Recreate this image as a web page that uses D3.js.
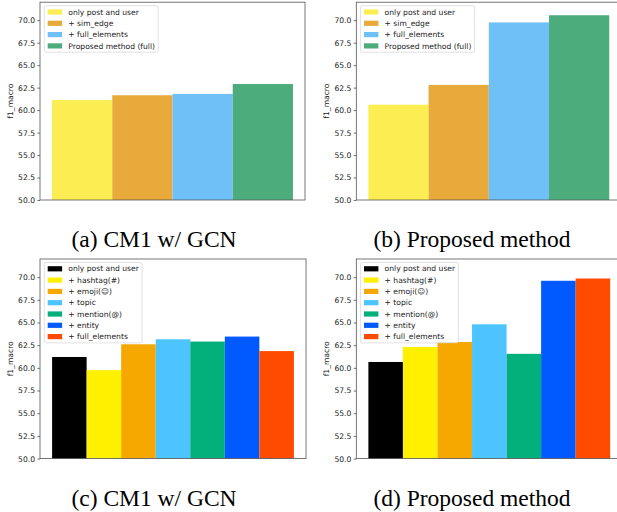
<!DOCTYPE html>
<html>
<head>
<meta charset="utf-8">
<script src="https://cdn.jsdelivr.net/npm/d3@7"></script>
<style>
  html, body { margin: 0; padding: 0; background: #ffffff; }
  svg { display: block; }
</style>
</head>
<body>
<svg id="chart" width="617" height="512"></svg>
<script>
// ---- data ----
const labelsTop = ["only post and user", "+ sim_edge", "+ full_elements", "Proposed method (full)"];
const colorsTop = ["#fcee52", "#e8aa3b", "#6fc0f7", "#4dac7c"];
const valuesA = [61.12, 61.65, 61.8, 62.9];
const valuesB = [60.6, 62.8, 69.75, 70.55];

const labelsBottom = ["only post and user", "+ hashtag(#)", "+ emoji(\u263A)", "+ topic", "+ mention(@)", "+ entity", "+ full_elements"];
const colorsBottom = ["#000000", "#fff000", "#f6a800", "#4dc4ff", "#03af7a", "#005aff", "#ff4b00"];
const valuesC = [61.2, 59.75, 62.6, 63.15, 62.9, 63.45, 61.85];
const valuesD = [60.65, 62.3, 62.85, 64.8, 61.55, 69.6, 69.85];

const yTicks = [50.0, 52.5, 55.0, 57.5, 60.0, 62.5, 65.0, 67.5, 70.0];
const yDomain = [50, 72];
const yLabel = "f1_macro";
const captions = ["(a) CM1 w/ GCN", "(b) Proposed method", "(c) CM1 w/ GCN", "(d) Proposed method"];

// ---- layout ----
const FS = 7.6;
const panels = [
  { x0: 40,    x1: 305,   y0: 2.2, y1: 200,   labels: labelsTop,    colors: colorsTop,    values: valuesA, cap: captions[0], capX: 154, capY: 246.5 },
  { x0: 356.3, x1: 621.3, y0: 2.2, y1: 200,   labels: labelsTop,    colors: colorsTop,    values: valuesB, cap: captions[1], capX: 472, capY: 246.5 },
  { x0: 40,    x1: 306,   y0: 259, y1: 458.6, labels: labelsBottom, colors: colorsBottom, values: valuesC, cap: captions[2], capX: 154, capY: 506 },
  { x0: 356.3, x1: 622.3, y0: 259, y1: 458.6, labels: labelsBottom, colors: colorsBottom, values: valuesD, cap: captions[3], capX: 472, capY: 506 }
];

const svg = d3.select("#chart");
svg.append("rect").attr("width", 617).attr("height", 512).attr("fill", "#fff");

panels.forEach(p => {
  const n = p.labels.length;
  const x = d3.scaleBand().domain(p.labels).range([p.x0, p.x1]).paddingInner(0).paddingOuter(0.05 * n);
  const y = d3.scaleLinear().domain(yDomain).range([p.y1, p.y0]);
  const g = svg.append("g");

  // bars
  g.selectAll("rect.bar").data(p.values).join("rect")
    .attr("class", "bar")
    .attr("x", (d, i) => x(p.labels[i]))
    .attr("width", x.bandwidth())
    .attr("y", d => y(d))
    .attr("height", d => y(yDomain[0]) - y(d))
    .attr("fill", (d, i) => p.colors[i]);

  // y axis
  const yAxis = d3.axisLeft(y).tickValues(yTicks).tickFormat(d3.format(".1f")).tickSize(2.6).tickPadding(2.4);
  const ya = g.append("g").attr("transform", `translate(${p.x0},0)`).call(yAxis);
  ya.select(".domain").remove();
  ya.selectAll(".tick line").attr("stroke", "#333").attr("stroke-width", 0.7);
  ya.selectAll(".tick text").attr("font-family", "DejaVu Sans").attr("font-size", FS).attr("fill", "#222");

  // frame
  g.append("rect")
    .attr("x", p.x0).attr("y", p.y0)
    .attr("width", p.x1 - p.x0).attr("height", p.y1 - p.y0)
    .attr("fill", "none").attr("stroke", "#555").attr("stroke-width", 0.8);

  // y label
  g.append("text")
    .attr("transform", `translate(${p.x0 - 27},${(p.y0 + p.y1) / 2}) rotate(-90)`)
    .attr("text-anchor", "middle")
    .attr("font-family", "DejaVu Sans").attr("font-size", FS).attr("fill", "#222")
    .text(yLabel);

  // legend
  const lx = p.x0 + 4.3, ly = p.y0 + 3.5;
  const lg = g.append("g");
  const box = lg.append("rect");
  const texts = [];
  p.labels.forEach((lab, i) => {
    const cy = ly + 6.3 + i * 11.3;
    lg.append("rect").attr("x", lx + 3.4).attr("y", cy - 2.6).attr("width", 14.4).attr("height", 5.2).attr("fill", p.colors[i]);
    const t = lg.append("text").attr("x", lx + 24).attr("y", cy).attr("dy", "0.35em")
      .attr("font-family", "DejaVu Sans").attr("font-size", FS).attr("fill", "#222").text(lab);
    texts.push(t);
  });
  const maxW = d3.max(texts, t => t.node().getComputedTextLength());
  box.attr("x", lx).attr("y", ly).attr("rx", 1.5)
    .attr("width", 24 + maxW + 3.2)
    .attr("height", 12.6 + (n - 1) * 11.3)
    .attr("fill", "#fff").attr("fill-opacity", 0.8)
    .attr("stroke", "#cccccc").attr("stroke-width", 0.6);

  // caption
  svg.append("text")
    .attr("x", p.capX).attr("y", p.capY)
    .attr("text-anchor", "middle")
    .attr("font-family", "Liberation Serif").attr("font-size", 23.5).attr("fill", "#000")
    .text(p.cap);
});
</script>
</body>
</html>
